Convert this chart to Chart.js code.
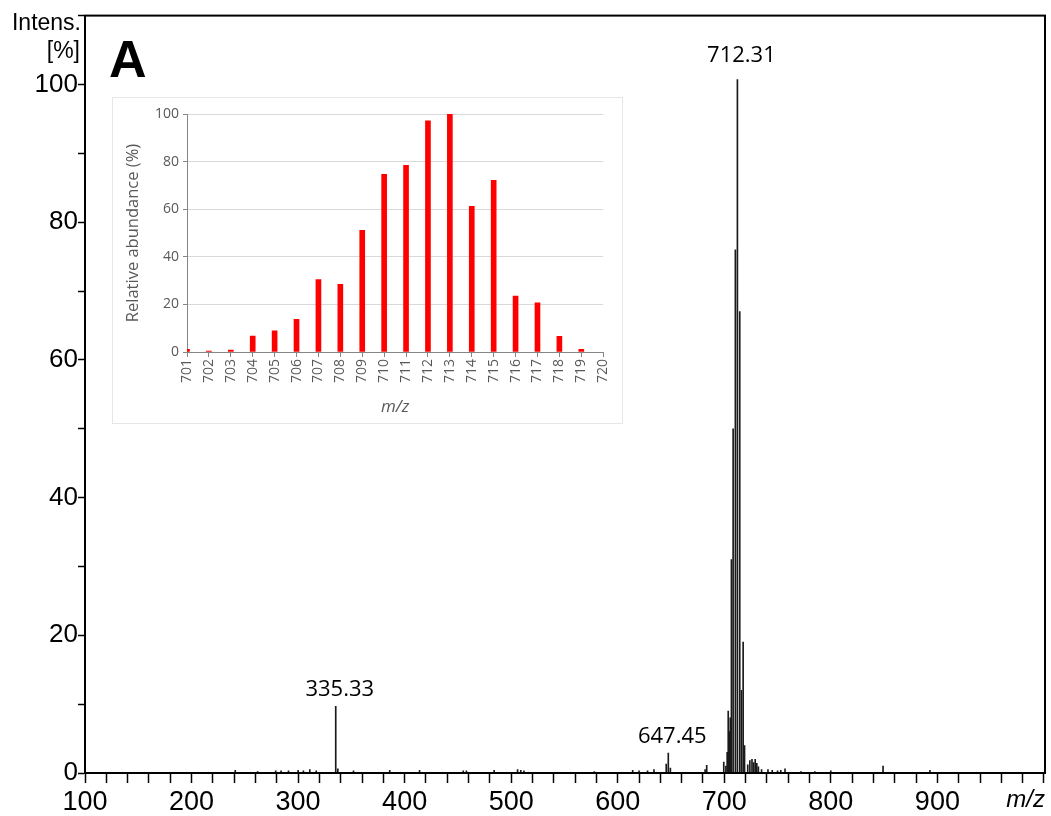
<!DOCTYPE html>
<html>
<head>
<meta charset="utf-8">
<script src="https://cdn.jsdelivr.net/npm/chart.js@4.4.1/dist/chart.umd.min.js"></script>
<style>
  html, body { margin: 0; padding: 0; background: #fff; }
  #wrap { position: relative; width: 1051px; height: 816px; }
  #main { position: absolute; left: 0; top: 0; }
  #insetBox { position: absolute; left: 112px; top: 97px; width: 509px; height: 325px;
              border: 1px solid #e6e6e6; background: #fff; }
</style>
</head>
<body>
<div id="wrap">
  <canvas id="main" width="1051" height="816"></canvas>
  <div id="insetBox"><canvas id="inset" width="509" height="325"></canvas></div>
</div>
<script>
// main spectrum: stick positions (m/z) and intensities (%)
const peakMz = [241, 262, 279, 284, 291, 300, 305, 311, 317, 335.33, 337.3, 352, 386, 414, 455, 458,
  484, 506, 509, 512, 578, 614, 620, 628, 634, 645.5, 647.45, 649.4, 682, 683.5, 699.5, 701.5,
  702.7, 703.7, 704.6, 705.6, 706.7, 708.3, 710.4, 712.31, 714.5, 716.1, 717.7, 719,
  722, 724, 726, 727.5, 729, 730.5, 732, 735, 741, 745, 750,
  753, 757, 772, 785, 800, 849, 893];
const peakInt = [0.4, 0.2, 0.3, 0.3, 0.3, 0.4, 0.3, 0.5, 0.3, 9.7, 0.6, 0.3, 0.4, 0.4, 0.3, 0.3,
  0.4, 0.5, 0.4, 0.3, 0.2, 0.4, 0.3, 0.3, 0.5, 1.3, 2.9, 0.7, 0.5, 1.1, 1.6, 1.0,
  3, 9, 6, 8, 31, 50, 76, 100.7, 67, 12, 19, 4,
  1.2, 1.8, 2.0, 1.5, 2.0, 1.4, 0.9, 0.5, 0.5, 0.4, 0.3,
  0.4, 0.6, 0.2, 0.2, 0.3, 1.0, 0.4];

// labelled peaks
const labelText = ['335.33', '647.45', '712.31'];
const labelMz = [335.33, 647.45, 712.31];
const labelInt = [9.7, 2.9, 100.7];

// inset: isotope pattern
const isoMz = [701, 702, 703, 704, 705, 706, 707, 708, 709, 710, 711, 712, 713, 714, 715, 716, 717, 718, 719];
const isoAbund = [1.1, 0.4, 0.8, 6.7, 8.9, 13.7, 30.4, 28.4, 51.1, 74.7, 78.4, 97.1, 100, 61.2, 72.1, 23.5, 20.7, 6.6, 1.1];

const axisFont = 'Liberation Sans, Arial, sans-serif';

// frame and text on the main spectrum
const mainDecor = {
  id: 'mainDecor',
  afterDraw(chart) {
    const { ctx, chartArea, scales } = chart;
    const x = scales.x, y = scales.y;
    ctx.save();
    ctx.strokeStyle = '#000';
    ctx.lineWidth = 2;
    ctx.strokeRect(chartArea.left, chartArea.top, chartArea.right - chartArea.left, chartArea.bottom - chartArea.top);

    // peak labels (the base peak label sits a bit higher)
    ctx.fillStyle = '#000';
    ctx.font = '22px "Open Sans", sans-serif';
    ctx.textAlign = 'center';
    ctx.textBaseline = 'bottom';
    labelMz.forEach((m, i) => {
      const gap = labelInt[i] > 50 ? 13 : 5;
      ctx.fillText(labelText[i], x.getPixelForValue(m) + 4, y.getPixelForValue(labelInt[i]) - gap);
    });

    // axis unit texts
    ctx.font = '23px ' + axisFont;
    ctx.textAlign = 'right';
    ctx.textBaseline = 'top';
    ctx.fillText('Intens.', 81, 12);
    ctx.fillText('[%]', 80, 40);

    ctx.font = 'italic 24px ' + axisFont;
    ctx.textAlign = 'right';
    ctx.textBaseline = 'middle';
    ctx.fillText('m/z', chartArea.right, 800);

    ctx.font = 'bold 52px ' + axisFont;
    ctx.textAlign = 'left';
    ctx.textBaseline = 'alphabetic';
    ctx.fillText('A', 109, 77);
    ctx.restore();
  }
};

new Chart(document.getElementById('main'), {
  type: 'bar',
  data: {
    datasets: [{
      data: peakMz.map((m, i) => ({ x: m, y: peakInt[i] })),
      backgroundColor: '#1a1a1a',
      barThickness: 1,
    }]
  },
  options: {
    responsive: false,
    animation: false,
    layout: { padding: { top: 13, right: 6, left: 0, bottom: 0 } },
    plugins: { legend: { display: false }, tooltip: { enabled: false } },
    scales: {
      x: {
        type: 'linear',
        min: 100,
        max: 1001,
        offset: false,
        grid: { offset: false, drawOnChartArea: false, tickLength: 10, tickColor: '#000', tickWidth: 1.5 },
        border: { color: '#000', width: 2 },
        ticks: {
          stepSize: 20,
          autoSkip: false,
          maxRotation: 0,
          includeBounds: false,
          padding: 3,
          color: '#000',
          font: { family: 'Liberation Sans Narrow, Liberation Sans, Arial', size: 27 },
          callback: (v) => (v % 100 === 0 && v < 1000 ? String(v) : '')
        },
        afterFit: (s) => { s.height = 43; }
      },
      y: {
        min: 0,
        max: 110,
        grid: { drawOnChartArea: false, tickLength: 7, tickColor: '#000', tickWidth: 1.5 },
        border: { color: '#000', width: 2 },
        ticks: {
          stepSize: 10,
          autoSkip: false,
          padding: 0,
          color: '#000',
          font: { family: axisFont, size: 26 },
          callback: (v) => (v % 20 === 0 && v <= 100 ? String(v) : '')
        },
        afterFit: (s) => { s.width = 85; }
      }
    }
  },
  plugins: [mainDecor]
});

// inset chart
const insetGrey = '#595959';
const insetFont = '"Open Sans", sans-serif';
new Chart(document.getElementById('inset'), {
  type: 'bar',
  data: {
    datasets: [{
      data: isoMz.map((m, i) => ({ x: m, y: isoAbund[i] })),
      backgroundColor: '#ff0000',
      barThickness: 5,
    }]
  },
  options: {
    responsive: false,
    animation: false,
    layout: { padding: { top: 16, right: 12, left: 0, bottom: 0 } },
    plugins: { legend: { display: false }, tooltip: { enabled: false } },
    scales: {
      x: {
        type: 'linear',
        min: 701,
        max: 720,
        offset: false,
        grid: { offset: false, drawOnChartArea: false, tickLength: 5, tickColor: '#868686' },
        border: { color: '#868686', width: 1 },
        ticks: {
          stepSize: 1,
          autoSkip: false,
          minRotation: 90,
          maxRotation: 90,
          padding: 2,
          color: insetGrey,
          font: { family: insetFont, size: 14 }
        },
        title: {
          display: true,
          text: 'm/z',
          color: insetGrey,
          font: { family: insetFont, size: 17, style: 'italic' },
          padding: { top: 2, bottom: 6 }
        },
        afterFit: (s) => { s.height = 71; }
      },
      y: {
        min: 0,
        max: 100,
        grid: { color: '#d9d9d9', tickLength: 4, tickColor: '#868686' },
        border: { color: '#868686', width: 1 },
        ticks: {
          stepSize: 20,
          padding: 4,
          color: insetGrey,
          font: { family: insetFont, size: 14 }
        },
        title: {
          display: true,
          text: 'Relative abundance (%)',
          color: insetGrey,
          font: { family: insetFont, size: 16.5 },
          padding: { top: 10, bottom: 2 }
        },
        afterFit: (s) => { s.width = 74; }
      }
    }
  }
});
</script>
</body>
</html>
